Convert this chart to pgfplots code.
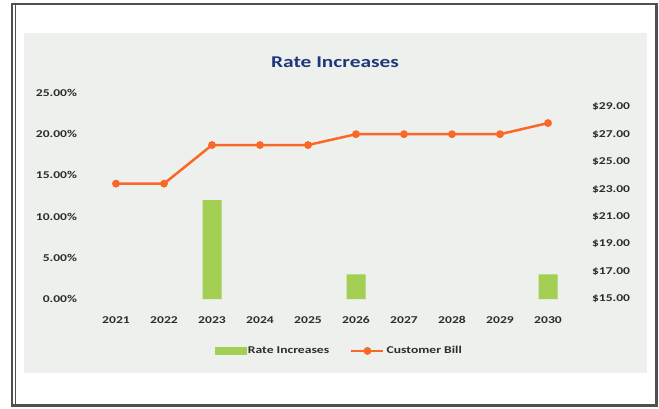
\documentclass[border=0pt]{standalone}
\usepackage{fontspec}
\setmainfont{Carlito}[FakeStretch=1.3]
\usepackage{pgfplots}
\pgfplotsset{compat=1.18}
\pgfplotsset{biglegline/.style={legend image code/.code={\draw[mark repeat=2,mark phase=2,##1] plot coordinates {(0bp,0bp) (16bp,0bp) (32bp,0bp)};}}}
\definecolor{bgc}{RGB}{237,240,237}
\definecolor{framec}{RGB}{80,80,80}
\definecolor{titleblue}{RGB}{31,56,122}
\definecolor{orng}{RGB}{250,104,40}
\definecolor{grn}{RGB}{163,207,85}
\definecolor{lbl}{RGB}{45,45,45}
\begin{document}
\begin{tikzpicture}[x=1bp,y=1bp]
\useasboundingbox (0,0) rectangle (659,408);
\fill[white] (0,0) rectangle (659,408);
\fill[bgc] (24,35) rectangle (647,375);
\draw[framec, line width=2.5bp] (12,2.5) rectangle (656.5,404);
\draw[framec, line width=0.8bp] (15.5,2.5) -- (15.5,404);
\node[font=\bfseries\fontsize{16.5}{18}\selectfont, text=titleblue] at (335,346) {Rate Increases};

\begin{axis}[
  at={(92bp,109bp)}, anchor=south west,
  width=480bp, height=206bp, scale only axis,
  xmin=-0.5, xmax=9.5, ymin=0, ymax=25,
  axis line style={draw=none}, major tick length=0pt,
  xtick={0,1,2,3,4,5,6,7,8,9},
  xticklabels={2021,2022,2023,2024,2025,2026,2027,2028,2029,2030},
  ytick={0,5,10,15,20,25},
  yticklabel={\pgfmathprintnumber[fixed,fixed zerofill,precision=2]{\tick}\%},
  /pgf/number format/assume math mode=true,
  ticklabel style={font=\bfseries\fontsize{10.5}{12}\selectfont, text=lbl},
  yticklabel style={xshift=-11.5bp},
  xticklabel style={yshift=-14bp},
]
\addplot[ybar, bar width=19bp, fill=grn, draw=none] coordinates {(2,12) (5,3) (9,3)};
\end{axis}

\begin{axis}[
  at={(92bp,109bp)}, anchor=south west,
  width=480bp, height=206bp, scale only axis,
  xmin=-0.5, xmax=9.5, ymin=15, ymax=30,
  axis y line*=right, axis x line=none,
  axis line style={draw=none}, major tick length=0pt,
  ytick={15,17,19,21,23,25,27,29},
  yticklabel={\$\pgfmathprintnumber[fixed,fixed zerofill,precision=2]{\tick}},
  /pgf/number format/assume math mode=true,
  ticklabel style={font=\bfseries\fontsize{10.5}{12}\selectfont, text=lbl},
  yticklabel style={xshift=16.5bp},
  legend columns=2,
  legend style={at={(axis description cs:0.515,-0.252)}, anchor=center,
    draw=none, fill=none, font=\bfseries\fontsize{10.5}{12}\selectfont, text=lbl,
    /tikz/every even column/.append style={column sep=19bp}},
]
\addlegendimage{legend image code/.code={\fill[grn] (0bp,-3.5bp) rectangle (31bp,3.5bp);}}
\addlegendentry{Rate Increases}
\addplot[orng, line width=2.5bp, mark=*, mark size=2.6bp, mark options={fill=orng, draw=orng}, biglegline]
  coordinates {(0,23.40) (1,23.40) (2,26.21) (3,26.21) (4,26.21) (5,27.00) (6,27.00) (7,27.00) (8,27.00) (9,27.81)};
\addlegendentry{Customer Bill}
\end{axis}
\end{tikzpicture}
\end{document}
